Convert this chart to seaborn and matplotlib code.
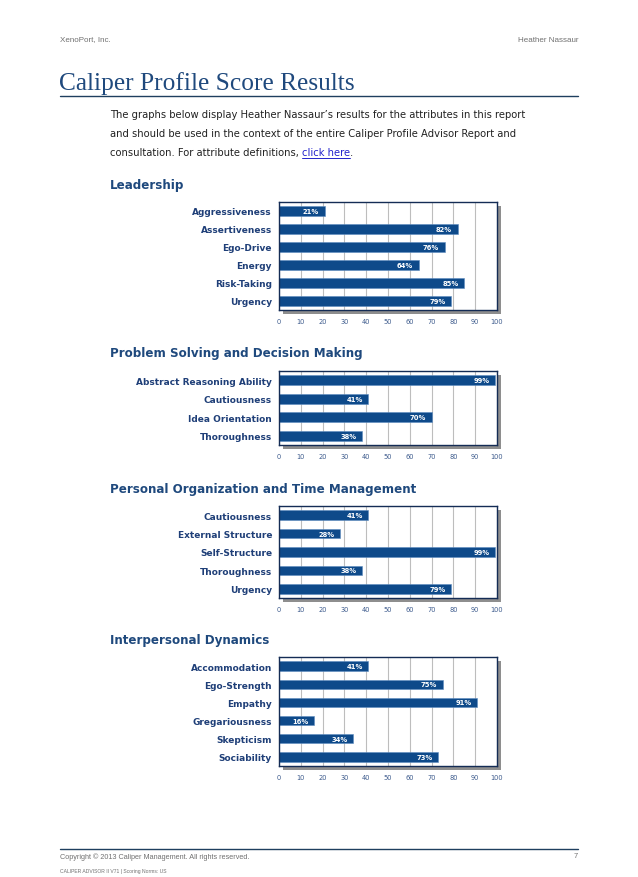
import matplotlib
matplotlib.use("Agg")
import matplotlib.pyplot as plt
from matplotlib.patches import Rectangle
from matplotlib.lines import Line2D
import seaborn as sns
import pandas as pd

# ---- data ----
lead_names = ["Aggressiveness", "Assertiveness", "Ego-Drive", "Energy", "Risk-Taking", "Urgency"]
lead_vals = [21, 82, 76, 64, 85, 79]
prob_names = ["Abstract Reasoning Ability", "Cautiousness", "Idea Orientation", "Thoroughness"]
prob_vals = [99, 41, 70, 38]
org_names = ["Cautiousness", "External Structure", "Self-Structure", "Thoroughness", "Urgency"]
org_vals = [41, 28, 99, 38, 79]
inter_names = ["Accommodation", "Ego-Strength", "Empathy", "Gregariousness", "Skepticism", "Sociability"]
inter_vals = [41, 75, 91, 16, 34, 73]
section_titles = ["Leadership", "Problem Solving and Decision Making",
                  "Personal Organization and Time Management", "Interpersonal Dynamics"]
x_ticks = [0, 10, 20, 30, 40, 50, 60, 70, 80, 90, 100]

sns.set_theme(style="white")
plt.rcParams['font.family'] = ['DejaVu Sans']

W, H = 638, 878
fig = plt.figure(figsize=(W / 100, H / 100), dpi=100)
fig.patch.set_facecolor("white")

BAR = "#0E4A8A"
NAVY = "#1F3F78"
TITLE = "#1F497D"
TICK = "#3C5A8C"

def fx(x):
    return x / W

def fy(y):
    return 1 - y / H

# ---- header ----
fig.text(fx(60), fy(40), "XenoPort, Inc.", fontsize=5.8, color="#707070",
         family="Liberation Sans", va="center", ha="left")
fig.text(fx(578), fy(40), "Heather Nassaur", fontsize=5.8, color="#707070",
         family="Liberation Sans", va="center", ha="right")
fig.text(fx(59), fy(84), "Caliper Profile Score Results", fontsize=18.3, color=TITLE,
         family="Liberation Serif", va="center", ha="left")
fig.add_artist(Line2D([fx(60), fx(578)], [fy(97), fy(97)], color="#1F3F5F", lw=1.0))

PFS = 7.2
para = ["The graphs below display Heather Nassaur\u2019s results for the attributes in this report",
        "and should be used in the context of the entire Caliper Profile Advisor Report and"]
for i, line in enumerate(para):
    fig.text(fx(110), fy(115 + 19 * i), line, fontsize=PFS, color="#222222", va="center", ha="left")
t3 = fig.text(fx(110), fy(153), "consultation. For attribute definitions, ", fontsize=PFS,
              color="#222222", va="center", ha="left")
fig.canvas.draw()
r = fig.canvas.get_renderer()
bb = t3.get_window_extent(r)
x_click = bb.x1
t4 = fig.text(x_click / W, fy(153), "click here", fontsize=PFS, color="#2222CC", va="center", ha="left")
bb4 = t4.get_window_extent(r)
fig.text(bb4.x1 / W, fy(153), ".", fontsize=PFS, color="#222222", va="center", ha="left")
fig.add_artist(Line2D([bb4.x0 / W, bb4.x1 / W], [fy(159), fy(159)], color="#2222CC", lw=0.7))

# ---- charts ----
charts = [
    (lead_names, lead_vals, 186, (203, 311)),
    (prob_names, prob_vals, 354, (372, 446)),
    (org_names, org_vals, 490, (507, 599)),
    (inter_names, inter_vals, 641, (658, 767)),
]
L, R = 279, 497
for (names, vals, ty, (top, bot)), title in zip(charts, section_titles):
    fig.text(fx(110), fy(ty), title, fontsize=8.6, fontweight="bold", color=TITLE,
             va="center", ha="left")
    # shadow
    sh = Rectangle((fx(L + 4), fy(bot + 4)), fx(R - L), (bot - top) / H,
                   transform=fig.transFigure, facecolor="#8E8E8E", edgecolor="none", zorder=-1)
    fig.add_artist(sh)
    ax = fig.add_axes([fx(L), fy(bot), fx(R - L), (bot - top) / H])
    ax.set_facecolor("white")
    df = pd.DataFrame({"attr": names, "score": vals})
    sns.barplot(data=df, x="score", y="attr", orient="h", color=BAR, saturation=1,
                width=0.52, ax=ax, edgecolor="#5E8CC0", linewidth=0.4)
    ax.set_xlim(0, 100)
    ax.set_ylim(len(names) - 0.5, -0.5)
    ax.set_xticks(x_ticks)
    ax.set_xticklabels([str(t) for t in x_ticks])
    ax.set_axisbelow(True)
    ax.xaxis.grid(True, color="#BDBDBD", lw=0.8)
    ax.yaxis.grid(False)
    ax.tick_params(axis="x", length=0, pad=6, labelsize=4.8, labelcolor=TICK)
    ax.tick_params(axis="y", length=0, pad=5, labelsize=6.5, labelcolor=NAVY)
    for lab in ax.get_yticklabels():
        lab.set_fontweight("bold")
    ax.set_xlabel("")
    ax.set_ylabel("")
    for s in ax.spines.values():
        s.set_visible(True)
        s.set_color("#142C55")
        s.set_linewidth(1.0)
    for i, v in enumerate(vals):
        ax.annotate(f"{v}%", xy=(v, i), xytext=(-4, 0), textcoords="offset points",
                    ha="right", va="center", fontsize=4.9, fontweight="bold", color="white")

# ---- footer ----
fig.add_artist(Line2D([fx(60), fx(578)], [fy(850), fy(850)], color="#1F3F5F", lw=1.0))
fig.text(fx(60), fy(857), "Copyright \u00a9 2013 Caliper Management. All rights reserved.",
         fontsize=5.2, color="#707070", family="Liberation Sans", va="center", ha="left")
fig.text(fx(578), fy(857), "7", fontsize=5.4, color="#707070", family="Liberation Sans",
         va="center", ha="right")
fig.text(fx(60), fy(872), "CALIPER ADVISOR II V71 | Scoring Norms: US", fontsize=3.6,
         color="#707070", family="Liberation Sans", va="center", ha="left")

fig.savefig("out.png", dpi=100, facecolor="white")
